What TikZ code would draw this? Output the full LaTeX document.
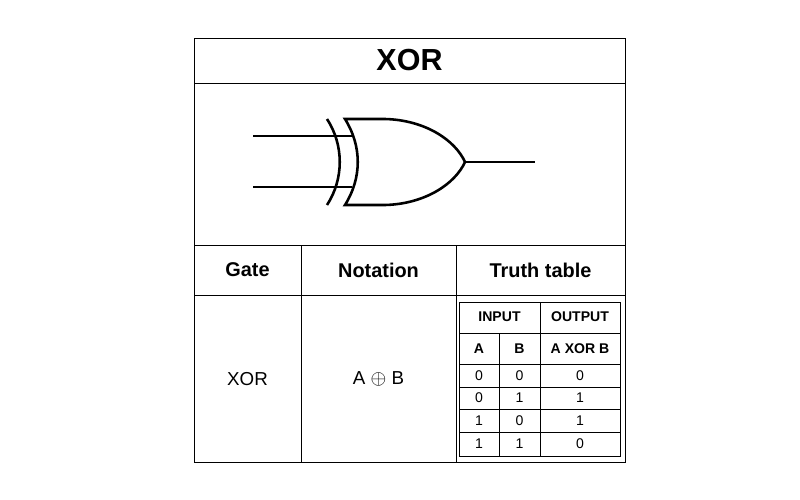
\documentclass[tikz,border=0pt]{standalone}
\usepackage{fontspec}
\setmainfont{Liberation Sans}
\usetikzlibrary{positioning, calc}

\begin{document}
\begin{tikzpicture}[x=0.03cm, y=-0.03cm, line width=0.8pt]
\tikzstyle{head}=[font=\fontsize{17}{17}\selectfont\bfseries]
\tikzstyle{cell}=[font=\fontsize{16}{16}\selectfont]
\tikzstyle{small}=[font=\fontsize{12}{12}\selectfont]
\tikzstyle{smallb}=[font=\fontsize{12}{12}\selectfont\bfseries]
\tikzstyle{wire}=[line width=2.2pt]
\useasboundingbox (0,0) rectangle (800,500);
% outer frame
\draw (194,38) rectangle (625,462);
\draw (194,83) -- (625,83);
\draw (194,245) -- (625,245);
\draw (194,295) -- (625,295);
\draw (301,245) -- (301,462);
\draw (456,245) -- (456,462);
\node[font=\fontsize{26}{26}\selectfont\bfseries] (title) at (409.5,60) {XOR};
% gate
\coordinate (inA) at (253,136);
\coordinate (inB) at (253,187);
\coordinate (out) at (535,162);
\draw[wire] (327,119) .. controls (344,145) and (344,179) .. (327,205);
\draw[wire] (345,119) -- (385,119) .. controls (425,120) and (455,140) .. (465,162)
  .. controls (455,184) and (425,204) .. (385,205) -- (345,205)
  .. controls (362,178) and (362,146) .. (345,119) -- cycle;
\draw[wire] (inA) -- (352,136);
\draw[wire] (inB) -- (352,187);
\draw[wire] (465,162) -- (out);
% headers
\node[head] (gate) at (247.5,270) {Gate};
\node[head] (nota) at (378.5,270) {Notation};
\node[head] (truth) at (540.5,270) {Truth table};
\node[cell] (xor) at (247.5,379) {XOR};
\node[cell] (expr) at (378.5,379) {A $\oplus$ B};
% truth table
\draw (459,302) rectangle (620,456);
\draw (459,333) -- (620,333);
\draw (459,364) -- (620,364);
\draw (459,387) -- (620,387);
\draw (459,409) -- (620,409);
\draw (459,432) -- (620,432);
\draw (540,302) -- (540,456);
\draw (499,333) -- (499,456);
\node[smallb] (inp) at (499.5,317) {INPUT};
\node[smallb] (outp) at (580,317) {OUTPUT};
\node[smallb] (ha) at (479,349) {A};
\node[smallb] (hb) at (519.5,349) {B};
\node[smallb] (hx) at (580,349) {A XOR B};
\foreach \y/\a/\b/\o in {375.5/0/0/0, 398/0/1/1, 420.5/1/0/1, 444/1/1/0}{
  \node[small] at (479,\y) {\a};
  \node[small] at (519.5,\y) {\b};
  \node[small] at (580,\y) {\o};
}
\end{tikzpicture}
\end{document}
